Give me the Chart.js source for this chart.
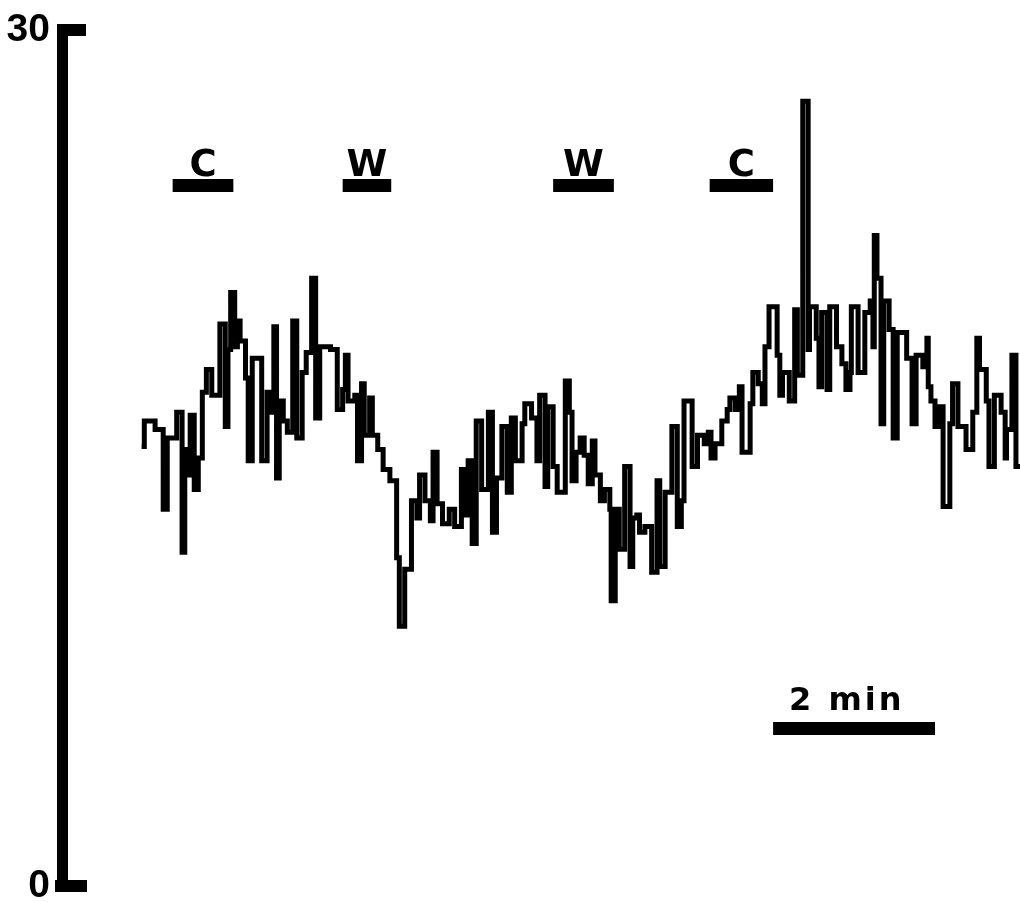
<!DOCTYPE html>
<html><head><meta charset="utf-8">
<script src="https://cdn.jsdelivr.net/npm/chart.js@4.4.1/dist/chart.umd.min.js"></script>
<style>html,body{margin:0;padding:0;background:#fff;} #wrap{width:1020px;height:902px;}</style>
</head><body><div id="wrap"><canvas id="c" width="1020" height="902"></canvas></div>
<script>
// time (s) at which each step starts, and the value held during the step
const times = [59,61,69,75,78,85,89,91,93,95,98,101,104,107,111,117,121,123,125,128,130,132,136,138,141,148,152,154,157,159,161,164,167,171,174,178,181,185,188,191,199,204,208,
210,212,217,219,222,224,228,230,234,238,243,248,250,254,259,263,265,269,273,275,278,282,287,291,296,299,301,304,307,311,316,319,322,326,330,333,336,341,343,348,352,354,358,360,364,367,
373,376,378,381,384,387,390,393,395,399,402,406,407,410,413,417,421,423,426,428,432,437,441,443,447,452,456,459,461,467,471,476,479,481,484,489,493,495,499,502,504,510,512,516,519,521,524,
530,532,534,539,543,545,549,553,554,559,561,563,567,569,574,578,581,584,585,590,595,599,601,602,604,607,609,613,616,619,626,630,633,638,641,642,644,647,650,653,658,660,664,670,675,678,680,685,687,691,696,699,700,704,707];
const values = [15.4,16.3,16.0,13.2,15.7,16.6,11.7,15.3,14.4,16.5,13.9,15.0,17.3,18.1,17.2,19.7,16.1,18.8,20.8,18.9,19.8,19.1,17.8,14.9,18.5,14.9,17.3,16.6,19.6,14.3,17.0,16.3,15.9,19.8,15.7,18.0,18.7,21.3,16.4,18.9,18.8,16.7,17.4,
18.6,17.0,17.2,14.9,17.6,15.8,17.1,15.8,15.3,14.6,14.2,11.5,9.1,11.1,13.5,12.9,14.4,13.5,12.8,15.2,13.4,12.7,13.2,12.6,14.6,13.0,14.9,12.0,16.3,13.9,16.6,12.4,14.3,16.1,13.8,16.4,14.9,16.2,16.9,16.4,14.9,17.2,14.0,16.8,14.7,13.8,
17.7,16.6,14.2,15.2,15.7,15.1,14.1,15.6,14.4,13.5,13.9,13.2,10.0,13.2,11.8,14.7,11.2,12.9,13.0,12.4,12.6,11.0,14.2,11.2,13.8,16.1,12.6,13.5,17.0,14.7,15.8,15.5,15.9,15.0,15.5,16.3,16.7,17.1,16.7,17.5,15.2,16.9,18.0,17.6,16.9,18.9,20.3,
18.6,17.2,18.0,17.0,20.2,17.9,27.5,18.8,20.3,19.2,17.5,20.1,17.4,20.3,18.9,18.3,17.4,18.0,20.3,18.0,20.1,20.5,18.9,22.8,21.3,16.2,20.5,19.5,15.7,19.4,18.5,16.2,18.6,18.2,19.2,17.5,17.0,16.1,16.8,13.3,16.2,17.6,16.1,15.3,16.6,19.2,18.1,17.0,14.7,17.2,16.6,15.0,16.0,18.6,14.7];
const traceEnd = 710;
const yTicks = [0, 30];
const conditionLabels = ['C', 'W', 'W', 'C'];
const conditionStart = [82, 208, 364, 480];
const conditionEnd = [127, 244, 409, 527];
const scaleBarLabel = '2 min';
const scaleBarStart = 527;
const scaleBarEnd = 647;

const pts = times.map((t, i) => ({x: t, y: values[i]}));
pts.push({x: traceEnd, y: values[values.length - 1]});

const annot = {
  id: 'annot',
  afterDraw(chart) {
    const {ctx, scales: {x, y}, chartArea} = chart;
    ctx.save();
    ctx.fillStyle = '#000';
    const y30 = y.getPixelForValue(30), y0 = y.getPixelForValue(0);
    const ax = chartArea.left;
    // axis bar and inward ticks
    ctx.fillRect(ax - 5, y30 - 5, 11, y0 - y30 + 11);
    ctx.fillRect(ax - 5, y30 - 6, 29, 12);
    ctx.fillRect(ax - 7, y0 - 6, 32, 12);
    // condition markers
    const lvl = y.getPixelForValue(24.55);
    ctx.font = 'bold 37px "DejaVu Sans"';
    ctx.textAlign = 'center';
    ctx.textBaseline = 'alphabetic';
    conditionLabels.forEach((lab, i) => {
      const x1 = x.getPixelForValue(conditionStart[i]);
      const x2 = x.getPixelForValue(conditionEnd[i]);
      ctx.fillRect(x1, lvl - 6.5, x2 - x1, 13);
      ctx.fillText(lab, (x1 + x2) / 2, lvl - 10);
    });
    // time scale bar
    const sl = y.getPixelForValue(5.52);
    const s1 = x.getPixelForValue(scaleBarStart), s2 = x.getPixelForValue(scaleBarEnd);
    ctx.fillRect(s1, sl - 6.5, s2 - s1, 13);
    ctx.font = 'bold 32px "DejaVu Sans"';
    ctx.letterSpacing = '3px';
    ctx.textAlign = 'left';
    ctx.fillText(scaleBarLabel, s1 + 16, sl - 18);
    ctx.restore();
  }
};

new Chart(document.getElementById('c'), {
  type: 'line',
  data: {datasets: [{data: pts, borderColor: '#000', borderWidth: 5, pointRadius: 0, stepped: 'before', fill: false, tension: 0}]},
  options: {
    responsive: false, animation: false, devicePixelRatio: 1,
    layout: {padding: {top: 30, bottom: 16, left: 0, right: 0}},
    plugins: {legend: {display: false}, tooltip: {enabled: false}},
    scales: {
      x: {type: 'linear', min: 0, max: 710, display: false},
      y: {
        type: 'linear', min: 0, max: 30,
        afterBuildTicks: (s) => { s.ticks = yTicks.map(v => ({value: v})); },
        afterFit: (s) => { s.width = 62; s.paddingTop = 0; s.paddingBottom = 0; },
        grid: {display: false, drawTicks: false},
        border: {display: false},
        ticks: {color: '#000', padding: 12, font: {family: 'Liberation Sans', weight: 'bold', size: 39}, autoSkip: false}
      }
    }
  },
  plugins: [annot]
});
</script></body></html>
